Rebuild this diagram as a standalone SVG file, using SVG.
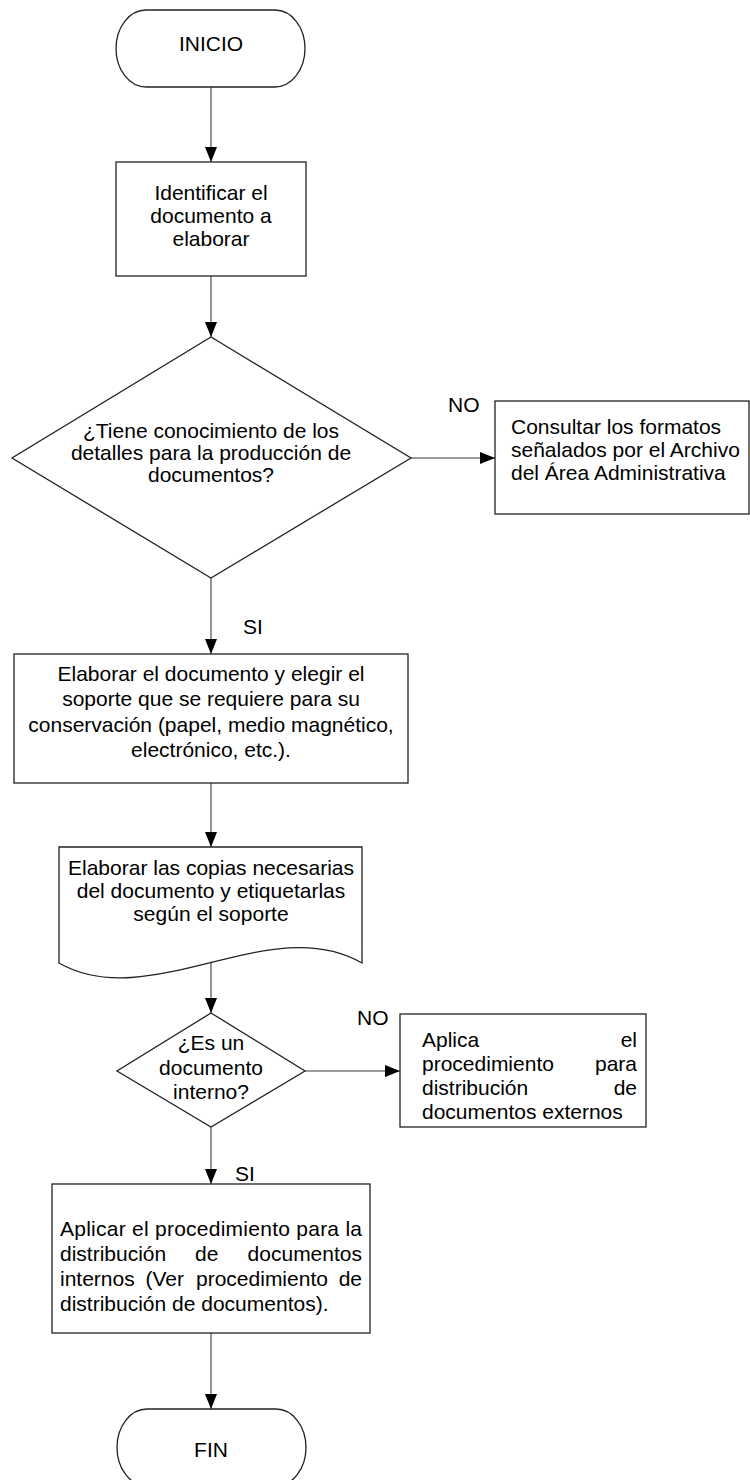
<svg xmlns="http://www.w3.org/2000/svg" width="750" height="1480" viewBox="0 0 750 1480">
  <defs>
    <marker id="arrow" markerUnits="userSpaceOnUse" markerWidth="15" markerHeight="12" refX="15" refY="6" orient="auto">
      <path d="M0,0 L15,6 L0,12 Z" fill="#000"/>
    </marker>
    <style>
      .shape { fill: #fff; stroke: #222; stroke-width: 1.3; }
      .conn { fill: none; stroke: #7a7a7a; stroke-width: 1.6; marker-end: url(#arrow); }
      text { font-family: "Liberation Sans", Arial, sans-serif; font-size: 21px; fill: #000; }
      .c { text-anchor: middle; }
      .e { text-anchor: end; }
    </style>
  </defs>

  <rect width="750" height="1480" fill="#fff"/>

  <!-- connectors -->
  <g id="connectors">
    <line class="conn" x1="211" y1="87" x2="211" y2="162"/>
    <line class="conn" x1="211" y1="276" x2="211" y2="337"/>
    <line class="conn" x1="411" y1="458" x2="495" y2="458"/>
    <line class="conn" x1="211" y1="578" x2="211" y2="654"/>
    <line class="conn" x1="211" y1="783" x2="211" y2="847"/>
    <line class="conn" x1="211" y1="963" x2="211" y2="1013"/>
    <line class="conn" x1="305" y1="1071" x2="400" y2="1071"/>
    <line class="conn" x1="211" y1="1127" x2="211" y2="1184"/>
    <line class="conn" x1="211" y1="1333" x2="211" y2="1409"/>
    <text x="448" y="411.5">NO</text>
    <text x="243" y="633.5">SI</text>
    <text x="357" y="1024.5">NO</text>
    <text x="235" y="1180.5">SI</text>
  </g>

  <!-- start terminator -->
  <g id="inicio">
    <rect class="shape" x="116" y="10" width="189" height="77" rx="30" ry="38.5"/>
    <text class="c" x="211" y="51">INICIO</text>
  </g>

  <g id="identificar">
    <rect class="shape" x="116" y="162" width="190" height="114"/>
    <text class="c" x="211" y="200">Identificar el</text>
    <text class="c" x="211" y="223">documento a</text>
    <text class="c" x="211" y="246">elaborar</text>
  </g>

  <g id="decision-conocimiento">
    <polygon class="shape" points="211,337 411,458 211,578 12,458"/>
    <text class="c" x="211" y="438">¿Tiene conocimiento de los</text>
    <text class="c" x="211" y="460">detalles para la producción de</text>
    <text class="c" x="211" y="482">documentos?</text>
  </g>

  <g id="consultar">
    <rect class="shape" x="495" y="401" width="254" height="113"/>
    <text x="511" y="434">Consultar los formatos</text>
    <text x="511" y="457">señalados por el Archivo</text>
    <text x="511" y="480">del Área Administrativa</text>
  </g>

  <g id="elaborar">
    <rect class="shape" x="14" y="654" width="394" height="129"/>
    <text class="c" x="211" y="681">Elaborar el documento y elegir el</text>
    <text class="c" x="211" y="706">soporte que se requiere para su</text>
    <text class="c" x="211" y="732">conservación (papel, medio magnético,</text>
    <text class="c" x="211" y="757">electrónico, etc.).</text>
  </g>

  <!-- document shape with wavy bottom -->
  <g id="copias">
    <path class="shape" d="M59,847 H362 V963 C270,910 150,1015 59,963 Z"/>
    <text class="c" x="211" y="875">Elaborar las copias necesarias</text>
    <text class="c" x="211" y="898">del documento y etiquetarlas</text>
    <text class="c" x="211" y="921">según el soporte</text>
  </g>

  <g id="decision-interno">
    <polygon class="shape" points="211,1013 305,1071 211,1127 117,1071"/>
    <text class="c" x="211" y="1050">¿Es un</text>
    <text class="c" x="211" y="1075">documento</text>
    <text class="c" x="211" y="1099">interno?</text>
  </g>

  <g id="externos">
    <rect class="shape" x="400" y="1014" width="246" height="113"/>
    <text x="422" y="1046.5">Aplica</text>
    <text class="e" x="637" y="1046.5">el</text>
    <text x="422" y="1070.5">procedimiento</text>
    <text class="e" x="637" y="1070.5">para</text>
    <text x="422" y="1094.5">distribución</text>
    <text class="e" x="637" y="1094.5">de</text>
    <text x="422" y="1118.5">documentos externos</text>
  </g>

  <g id="internos">
    <rect class="shape" x="52" y="1184" width="318" height="149"/>
    <text x="60" y="1235.5" textLength="302" lengthAdjust="spacing">Aplicar el procedimiento para la</text>
    <text x="60" y="1260.5">distribución</text>
    <text x="195" y="1260.5">de</text>
    <text class="e" x="362" y="1260.5">documentos</text>
    <text x="60" y="1285.5">internos</text>
    <text x="145.5" y="1285.5">(Ver</text>
    <text x="196" y="1285.5">procedimiento</text>
    <text class="e" x="362" y="1285.5">de</text>
    <text x="60" y="1310.5">distribución de documentos).</text>
  </g>

  <!-- end terminator -->
  <g id="fin">
    <rect class="shape" x="117" y="1409" width="189" height="77" rx="30" ry="38.5"/>
    <text class="c" x="211" y="1457">FIN</text>
  </g>
</svg>
